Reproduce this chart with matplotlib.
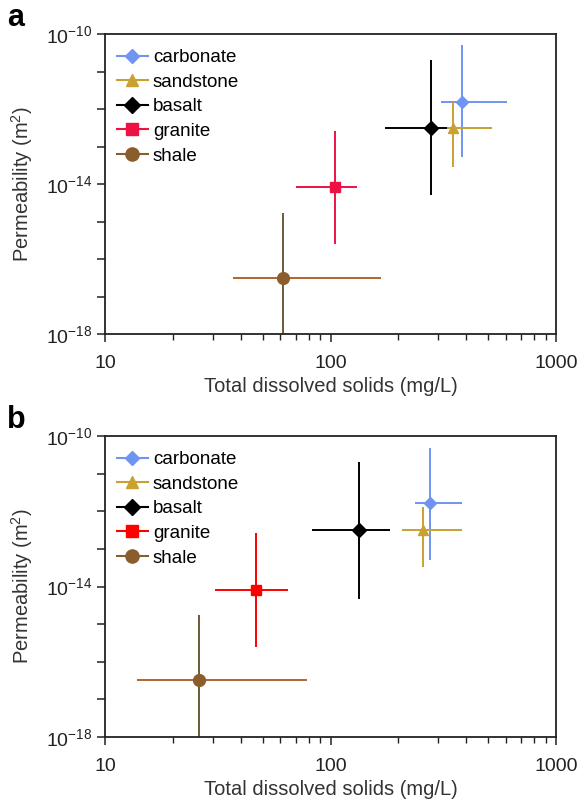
import matplotlib
matplotlib.use("Agg")
import matplotlib.pyplot as plt
import numpy as np
from matplotlib.lines import Line2D
from matplotlib.ticker import FixedLocator, FuncFormatter, NullFormatter

plt.rcParams['font.family'] = ['Liberation Sans', 'DejaVu Sans']
plt.rcParams['mathtext.fontset'] = 'custom'
plt.rcParams['mathtext.rm'] = 'Liberation Sans'
plt.rcParams['mathtext.it'] = 'Liberation Sans:italic'
plt.rcParams['mathtext.bf'] = 'Liberation Sans:bold'

rocks = ["carbonate", "sandstone", "basalt", "granite", "shale"]

# Panel a: TDS (mg/L) center / low / high ; log10 permeability center / high / low
a_tds = [382, 351, 278, 105, 61.5]
a_tds_lo = [309, 322, 175, 70, 37]
a_tds_hi = [604, 519, 330, 131, 168]
a_logk = [-11.80, -12.50, -12.50, -14.08, -16.50]
a_logk_hi = [-10.29, -11.80, -10.69, -12.59, -14.78]
a_logk_lo = [-13.27, -13.54, -14.29, -15.61, -19.0]

# Panel b
b_tds = [276, 258, 134, 46.8, 26.2]
b_tds_lo = [237, 207, 83, 30.7, 13.9]
b_tds_hi = [382, 382, 184, 64.6, 78.3]
b_logk = [-11.79, -12.50, -12.50, -14.10, -16.49]
b_logk_hi = [-10.33, -11.88, -10.68, -12.59, -14.76]
b_logk_lo = [-13.30, -13.48, -14.32, -15.60, -19.0]

marker_styles = ["D", "^", "D", "s", "o"]
marker_sizes = [6.5, 7.5, 7, 7, 8.5]
colors_a = ["#6F94F2", "#C9A032", "#000000", "#EE1144", "#8A5E2C"]
colors_b = ["#6F94F2", "#C9A032", "#000000", "#FF0000", "#8A5E2C"]
xline_colors = {"shale": "#B0642A"}
yline_colors = {"shale": "#6B5B35"}

fig = plt.figure(figsize=(5.8, 7.99), dpi=100)
ax_a = fig.add_axes([105/580, 1-334/799, (556-105)/580, 300/799])
ax_b = fig.add_axes([105/580, 1-737/799, (556-105)/580, 301/799])


def ylab(v, pos):
    e = int(round(np.log10(v)))
    if e in (-10, -14, -18):
        return r'$\mathregular{10^{%d}}$' % e
    return ''


def draw(ax, tds, lo, hi, logk, khi, klo, colors):
    for i, r in enumerate(rocks):
        c = colors[i]
        xc = xline_colors.get(r, c)
        yc = yline_colors.get(r, c)
        y = 10 ** logk[i]
        ax.plot([lo[i], hi[i]], [y, y], color=xc, lw=1.4, solid_capstyle='butt', zorder=2)
        ax.plot([tds[i], tds[i]], [10 ** klo[i], 10 ** khi[i]], color=yc, lw=1.4,
                solid_capstyle='butt', zorder=2)
        ax.plot([tds[i]], [y], marker=marker_styles[i], ms=marker_sizes[i], color=c,
                mec=c, ls='none', zorder=3)
    ax.set_xscale('log')
    ax.set_yscale('log')
    ax.set_xlim(10, 1000)
    ax.set_ylim(1e-18, 1e-10)
    ax.yaxis.set_major_locator(FixedLocator([10.0 ** e for e in range(-18, -9)]))
    ax.yaxis.set_major_formatter(FuncFormatter(ylab))
    ax.yaxis.set_minor_locator(FixedLocator([]))
    ax.xaxis.set_major_locator(FixedLocator([10, 100, 1000]))
    ax.xaxis.set_major_formatter(FuncFormatter(lambda v, p: '%d' % v))
    ax.xaxis.set_minor_locator(FixedLocator([k * 10 for k in range(2, 10)] + [k * 100 for k in range(2, 10)]))
    ax.xaxis.set_minor_formatter(NullFormatter())
    ax.tick_params(axis='both', which='major', direction='out', length=6, width=1.1,
                   labelsize=14, colors='#222222')
    ax.tick_params(axis='x', which='minor', direction='out', length=4, width=1.0, colors='#222222')
    ax.tick_params(axis='x', which='major', pad=9)
    ax.tick_params(axis='y', which='major', pad=3)
    for s in ax.spines.values():
        s.set_linewidth(1.3)
        s.set_color('#222222')
    ax.set_xlabel('Total dissolved solids (mg/L)', fontsize=14.5, color='#333333', labelpad=4)
    ax.set_ylabel(r'Permeability (m$\mathregular{^2}$)', fontsize=14.5, color='#333333', labelpad=8)
    handles = [Line2D([0], [0], color=colors[i], marker=marker_styles[i], ms=marker_sizes[i] + 1,
                      lw=1.5, mec=colors[i]) for i in range(len(rocks))]
    ax.legend(handles, rocks, loc='upper left', frameon=False, fontsize=13.5,
              handlelength=1.65, handletextpad=0.27, labelspacing=0.4,
              borderaxespad=0.0, bbox_to_anchor=(0.01, 0.975))


draw(ax_a, a_tds, a_tds_lo, a_tds_hi, a_logk, a_logk_hi, a_logk_lo, colors_a)
draw(ax_b, b_tds, b_tds_lo, b_tds_hi, b_logk, b_logk_hi, b_logk_lo, colors_b)

fig.text(7/580, 1-18/799, 'a', fontsize=22, fontweight='bold', va='center', ha='left')
fig.text(7/580, 1-420/799, 'b', fontsize=22, fontweight='bold', va='center', ha='left')

fig.savefig('out.png', dpi=100, facecolor='white')
